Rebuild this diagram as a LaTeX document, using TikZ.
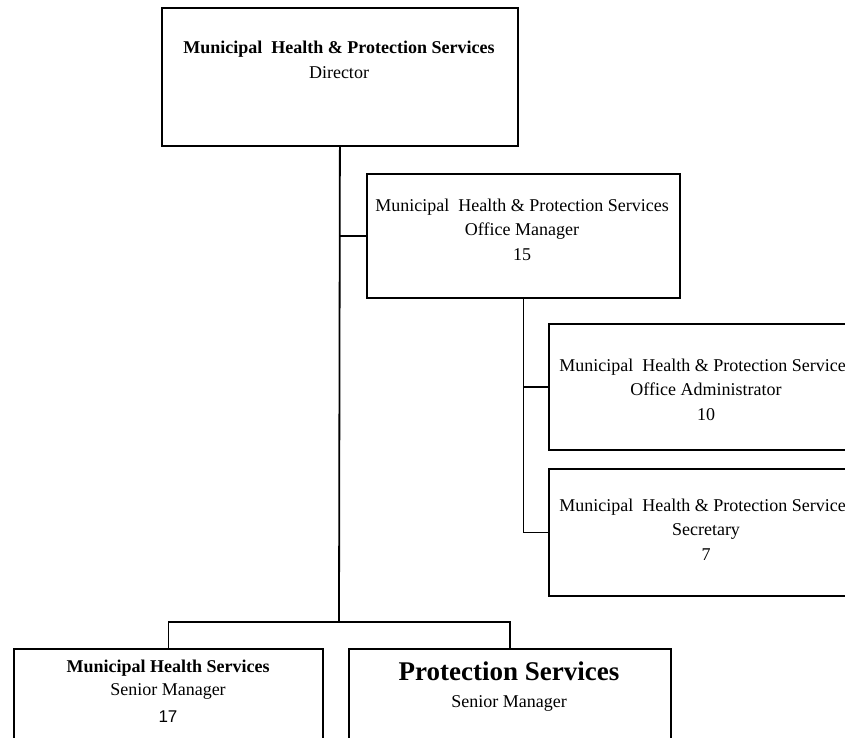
\documentclass[tikz,border=0pt]{standalone}
\usepackage{fontspec}
\setmainfont{Liberation Serif}
\newfontfamily\arialf{Liberation Sans}
\tikzset{
  orgbox/.style={draw=black, line width=1.8pt, inner sep=0pt, anchor=north west},
  orgtext/.style={align=center, inner sep=0pt, anchor=base, font=\fontsize{18}{24.5}\selectfont},
  link/.style={draw=black, line width=1.8pt}
}
\begin{document}
\begin{tikzpicture}[x=1pt, y=-1pt]
\useasboundingbox (0,0) rectangle (845,737);
% boxes
\node[orgbox, minimum width=356pt, minimum height=138pt] (dir) at (161,7) {};
\node[orgbox, minimum width=313pt, minimum height=124pt] (om) at (366,173) {};
\node[orgbox, minimum width=317pt, minimum height=126pt] (adm) at (548,323) {};
\node[orgbox, minimum width=317pt, minimum height=127pt] (sec) at (548,468) {};
\node[orgbox, minimum width=309pt, minimum height=125pt] (mhs) at (13,648) {};
\node[orgbox, minimum width=322pt, minimum height=125pt] (ps) at (348,648) {};
% texts (anchor = baseline of the last line)
\node[orgtext] (dirt) at (339,78) {\textbf{Municipal\ \ Health \& Protection Services}\\Director};
\node[orgtext] (omt) at (522,260) {Municipal\ \ Health \& Protection Services\\Office Manager\\15};
\node[orgtext] (admt) at (706,420) {Municipal\ \ Health \& Protection Services\\Office Administrator\\10};
\node[orgtext] (sect) at (706,560) {Municipal\ \ Health \& Protection Services\\Secretary\\7};
\node[orgtext, font=\fontsize{18}{23.5}\selectfont] (mhst) at (168,722) {\textbf{Municipal Health Services}\\Senior Manager\\[3pt]{\arialf\fontsize{17}{20}\selectfont 17}};
\node[orgtext, font=\fontsize{18}{27}\selectfont] (pst) at (509,707) {{\fontsize{27}{27}\selectfont\bfseries Protection Services}\\Senior Manager};
% connectors
\coordinate (bar) at (339,622);
\draw[link] (dir.south) -- (bar);
\draw[link] (om.west) -- (om.west -| dir.south);
\draw[link] (om.south) |- (sec.west);
\draw[link] (adm.west) -- (adm.west -| om.south);
\draw[link] (mhs.north) |- (bar) -| (ps.north);
\end{tikzpicture}
\end{document}
